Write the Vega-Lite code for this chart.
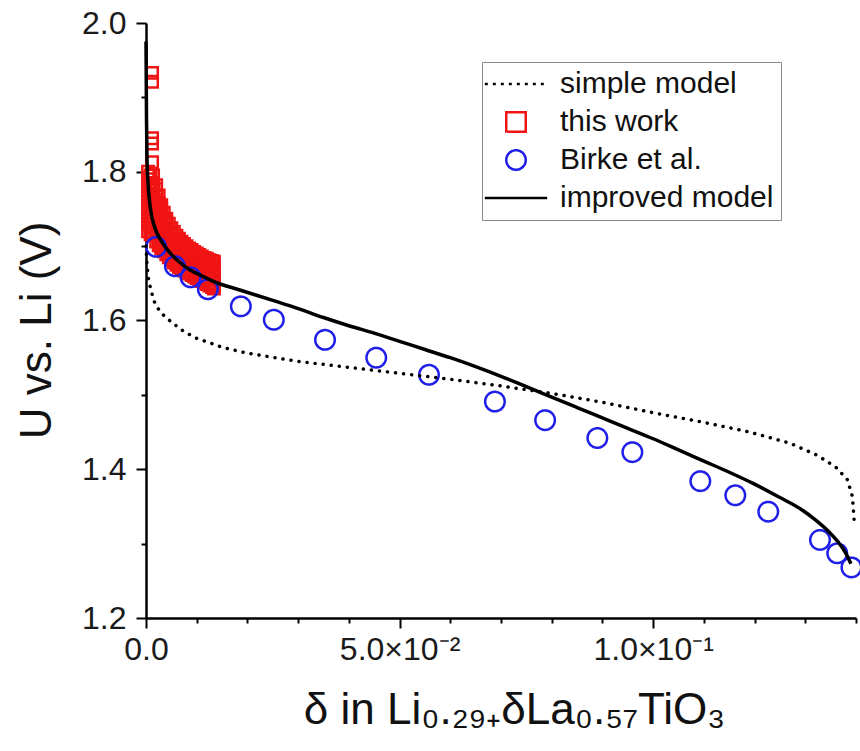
{
  "$schema": "https://vega.github.io/schema/vega-lite/v6.json",
  "width": 710,
  "height": 595,
  "autosize": {"type": "none"},
  "padding": {"left": 146, "top": 23, "right": 4, "bottom": 133},
  "background": "white",
  "config": {
    "view": {"stroke": null},
    "font": "Liberation Sans",
    "axis": {
      "grid": false,
      "domainColor": "black",
      "domainWidth": 2.5,
      "tickColor": "black",
      "tickWidth": 2,
      "labelFont": "Liberation Sans",
      "labelFontSize": 32,
      "labelColor": "#1a1a1a",
      "titleFont": "Liberation Sans",
      "titleFontSize": 44,
      "titleFontWeight": "normal",
      "titleColor": "#111",
      "labelFlush": false,
      "labelOverlap": false
    }
  },
  "layer": [
    {
      "data": {"values": [
        {"x": 0.0012, "y": 1.933}, {"x": 0.0012, "y": 1.921}, {"x": 0.0012, "y": 1.845}, {"x": 0.0012, "y": 1.838}, {"x": 0.0012, "y": 1.813},
        {"x": 0.0004, "y": 1.80}, {"x": 0.0004, "y": 1.79}, {"x": 0.0004, "y": 1.78}, {"x": 0.0004, "y": 1.77}, {"x": 0.0004, "y": 1.76}, {"x": 0.0004, "y": 1.75}, {"x": 0.0004, "y": 1.74}, {"x": 0.0004, "y": 1.73}, {"x": 0.0004, "y": 1.72},
        {"x": 0.0009, "y": 1.795}, {"x": 0.0009, "y": 1.785}, {"x": 0.0009, "y": 1.775}, {"x": 0.0009, "y": 1.765}, {"x": 0.0009, "y": 1.755}, {"x": 0.0009, "y": 1.745}, {"x": 0.0009, "y": 1.735}, {"x": 0.0009, "y": 1.725}, {"x": 0.0009, "y": 1.716},
        {"x": 0.0014, "y": 1.795}, {"x": 0.0014, "y": 1.785}, {"x": 0.0014, "y": 1.775}, {"x": 0.0014, "y": 1.765}, {"x": 0.0014, "y": 1.755}, {"x": 0.0014, "y": 1.745}, {"x": 0.0014, "y": 1.735}, {"x": 0.0014, "y": 1.725}, {"x": 0.0014, "y": 1.715},
        {"x": 0.002, "y": 1.782}, {"x": 0.002, "y": 1.777}, {"x": 0.002, "y": 1.767}, {"x": 0.002, "y": 1.757}, {"x": 0.002, "y": 1.747}, {"x": 0.002, "y": 1.737}, {"x": 0.002, "y": 1.727}, {"x": 0.002, "y": 1.717}, {"x": 0.002, "y": 1.706},
        {"x": 0.0025, "y": 1.768}, {"x": 0.0025, "y": 1.758}, {"x": 0.0025, "y": 1.748}, {"x": 0.0025, "y": 1.738}, {"x": 0.0025, "y": 1.728}, {"x": 0.0025, "y": 1.718}, {"x": 0.0025, "y": 1.708}, {"x": 0.0025, "y": 1.701},
        {"x": 0.003, "y": 1.755}, {"x": 0.003, "y": 1.750}, {"x": 0.003, "y": 1.740}, {"x": 0.003, "y": 1.730}, {"x": 0.003, "y": 1.720}, {"x": 0.003, "y": 1.710}, {"x": 0.003, "y": 1.700}, {"x": 0.003, "y": 1.697},
        {"x": 0.0035, "y": 1.745}, {"x": 0.0035, "y": 1.735}, {"x": 0.0035, "y": 1.725}, {"x": 0.0035, "y": 1.715}, {"x": 0.0035, "y": 1.705}, {"x": 0.0035, "y": 1.693},
        {"x": 0.004, "y": 1.737}, {"x": 0.004, "y": 1.732}, {"x": 0.004, "y": 1.722}, {"x": 0.004, "y": 1.712}, {"x": 0.004, "y": 1.702}, {"x": 0.004, "y": 1.694}, {"x": 0.004, "y": 1.689},
        {"x": 0.0045, "y": 1.730}, {"x": 0.0045, "y": 1.720}, {"x": 0.0045, "y": 1.710}, {"x": 0.0045, "y": 1.700}, {"x": 0.0045, "y": 1.692}, {"x": 0.0045, "y": 1.685},
        {"x": 0.005, "y": 1.724}, {"x": 0.005, "y": 1.719}, {"x": 0.005, "y": 1.709}, {"x": 0.005, "y": 1.699}, {"x": 0.005, "y": 1.689}, {"x": 0.005, "y": 1.681},
        {"x": 0.0055, "y": 1.719}, {"x": 0.0055, "y": 1.709}, {"x": 0.0055, "y": 1.699}, {"x": 0.0055, "y": 1.689}, {"x": 0.0055, "y": 1.678},
        {"x": 0.006, "y": 1.714}, {"x": 0.006, "y": 1.709}, {"x": 0.006, "y": 1.699}, {"x": 0.006, "y": 1.689}, {"x": 0.006, "y": 1.680}, {"x": 0.006, "y": 1.675},
        {"x": 0.0065, "y": 1.710}, {"x": 0.0065, "y": 1.700}, {"x": 0.0065, "y": 1.690}, {"x": 0.0065, "y": 1.680}, {"x": 0.0065, "y": 1.672},
        {"x": 0.007, "y": 1.706}, {"x": 0.007, "y": 1.701}, {"x": 0.007, "y": 1.691}, {"x": 0.007, "y": 1.682}, {"x": 0.007, "y": 1.674}, {"x": 0.007, "y": 1.669},
        {"x": 0.0075, "y": 1.703}, {"x": 0.0075, "y": 1.693}, {"x": 0.0075, "y": 1.683}, {"x": 0.0075, "y": 1.675}, {"x": 0.0075, "y": 1.667},
        {"x": 0.008, "y": 1.700}, {"x": 0.008, "y": 1.695}, {"x": 0.008, "y": 1.685}, {"x": 0.008, "y": 1.676}, {"x": 0.008, "y": 1.669}, {"x": 0.008, "y": 1.665},
        {"x": 0.0085, "y": 1.697}, {"x": 0.0085, "y": 1.687}, {"x": 0.0085, "y": 1.677}, {"x": 0.0085, "y": 1.669}, {"x": 0.0085, "y": 1.663},
        {"x": 0.009, "y": 1.695}, {"x": 0.009, "y": 1.690}, {"x": 0.009, "y": 1.680}, {"x": 0.009, "y": 1.671}, {"x": 0.009, "y": 1.664}, {"x": 0.009, "y": 1.661},
        {"x": 0.0095, "y": 1.692}, {"x": 0.0095, "y": 1.682}, {"x": 0.0095, "y": 1.672}, {"x": 0.0095, "y": 1.665}, {"x": 0.0095, "y": 1.659},
        {"x": 0.01, "y": 1.690}, {"x": 0.01, "y": 1.685}, {"x": 0.01, "y": 1.675}, {"x": 0.01, "y": 1.666}, {"x": 0.01, "y": 1.660}, {"x": 0.01, "y": 1.657},
        {"x": 0.0105, "y": 1.688}, {"x": 0.0105, "y": 1.678}, {"x": 0.0105, "y": 1.668}, {"x": 0.0105, "y": 1.655},
        {"x": 0.011, "y": 1.686}, {"x": 0.011, "y": 1.681}, {"x": 0.011, "y": 1.671}, {"x": 0.011, "y": 1.661}, {"x": 0.011, "y": 1.653},
        {"x": 0.0115, "y": 1.684}, {"x": 0.0115, "y": 1.674}, {"x": 0.0115, "y": 1.664}, {"x": 0.0115, "y": 1.651},
        {"x": 0.012, "y": 1.683}, {"x": 0.012, "y": 1.678}, {"x": 0.012, "y": 1.668}, {"x": 0.012, "y": 1.658}, {"x": 0.012, "y": 1.649},
        {"x": 0.0125, "y": 1.681}, {"x": 0.0125, "y": 1.671}, {"x": 0.0125, "y": 1.661}, {"x": 0.0125, "y": 1.647},
        {"x": 0.013, "y": 1.680}, {"x": 0.013, "y": 1.675}, {"x": 0.013, "y": 1.665}, {"x": 0.013, "y": 1.655}, {"x": 0.013, "y": 1.645},
        {"x": 0.0134, "y": 1.679}, {"x": 0.0134, "y": 1.669}, {"x": 0.0134, "y": 1.659}, {"x": 0.0134, "y": 1.650}, {"x": 0.0134, "y": 1.643}
      ]},
      "mark": {"type": "point", "filled": false, "size": 130, "strokeWidth": 2.5, "opacity": 1},
      "encoding": {
        "x": {
          "field": "x", "type": "quantitative",
          "scale": {"domain": [0, 0.14], "nice": false, "zero": false},
          "axis": {
            "title": "δ in Li₀.₂₉₊δLa₀.₅₇TiO₃",
            "values": [0, 0.01, 0.02, 0.03, 0.04, 0.05, 0.06, 0.07, 0.08, 0.09, 0.1, 0.11, 0.12, 0.13, 0.14],
            "labelExpr": "abs(datum.value) < 1e-9 ? '0.0' : (abs(datum.value - 0.05) < 1e-6 ? '5.0×10⁻²' : (abs(datum.value - 0.1) < 1e-6 ? '1.0×10⁻¹' : ''))",
            "tickSize": {"condition": {"test": "round(datum.value * 100) % 5 == 0", "value": 10}, "value": 5},
            "labelPadding": 6,
            "titlePadding": 23,
            "titleX": 368
          }
        },
        "y": {
          "field": "y", "type": "quantitative",
          "scale": {"domain": [1.2, 2.0], "nice": false, "zero": false},
          "axis": {
            "title": "U vs. Li (V)",
            "values": [1.2, 1.3, 1.4, 1.5, 1.6, 1.7, 1.8, 1.9, 2.0],
            "labelExpr": "round(datum.value * 10) % 2 == 0 ? format(datum.value, '.1f') : ''",
            "tickSize": {"condition": {"test": "round(datum.value * 10) % 2 == 0", "value": 10}, "value": 5},
            "labelPadding": 10,
            "titlePadding": 22,
            "titleY": 307
          }
        },
        "shape": {
          "datum": "this work",
          "scale": {"domain": ["simple model", "this work", "Birke et al.", "improved model"], "range": ["M-3.2,0H3.2", "square", "circle", "M-3.2,0H3.2"]},
          "legend": {"title": null, "orient": "none", "legendX": 336, "legendY": 39, "symbolSize": 380, "symbolStrokeWidth": 2.5, "labelFont": "Liberation Sans", "labelFontSize": 30, "labelLimit": 400, "labelColor": "#111", "strokeColor": "#888", "fillColor": "white", "padding": 7, "rowPadding": 8, "symbolOffset": 12, "labelOffset": 29}
        },
        "color": {
          "datum": "this work",
          "scale": {"domain": ["simple model", "this work", "Birke et al.", "improved model"], "range": ["#000000", "#f01414", "#1e1ee8", "#000000"]},
          "legend": {"title": null, "orient": "none", "legendX": 336, "legendY": 39, "symbolSize": 380, "symbolStrokeWidth": 2.5, "labelFont": "Liberation Sans", "labelFontSize": 30, "labelLimit": 400, "labelColor": "#111", "strokeColor": "#888", "fillColor": "white", "padding": 7, "rowPadding": 8, "symbolOffset": 12, "labelOffset": 29}
        },
        "strokeDash": {
          "datum": "this work",
          "scale": {"domain": ["simple model", "this work", "Birke et al.", "improved model"], "range": [[3, 5], [1, 0], [1, 0], [1, 0]]},
          "legend": {"title": null, "orient": "none", "legendX": 336, "legendY": 39, "symbolSize": 380, "symbolStrokeWidth": 2.5, "labelFont": "Liberation Sans", "labelFontSize": 30, "labelLimit": 400, "labelColor": "#111", "strokeColor": "#888", "fillColor": "white", "padding": 7, "rowPadding": 8, "symbolOffset": 12, "labelOffset": 29}
        }
      }
    },
    {
      "data": {"values": [
        {"x": 0.0020, "y": 1.699}, {"x": 0.0057, "y": 1.673}, {"x": 0.0088, "y": 1.658}, {"x": 0.0122, "y": 1.642},
        {"x": 0.0187, "y": 1.619}, {"x": 0.0252, "y": 1.601}, {"x": 0.0353, "y": 1.574}, {"x": 0.0454, "y": 1.550},
        {"x": 0.0558, "y": 1.527}, {"x": 0.0688, "y": 1.491}, {"x": 0.0787, "y": 1.466}, {"x": 0.0890, "y": 1.442},
        {"x": 0.0959, "y": 1.423}, {"x": 0.1093, "y": 1.384}, {"x": 0.1162, "y": 1.365}, {"x": 0.1227, "y": 1.343},
        {"x": 0.1329, "y": 1.305}, {"x": 0.1363, "y": 1.287}, {"x": 0.1391, "y": 1.268}
      ]},
      "mark": {"type": "point", "filled": false, "size": 380, "strokeWidth": 2.5, "opacity": 1},
      "encoding": {
        "x": {"field": "x", "type": "quantitative"},
        "y": {"field": "y", "type": "quantitative"},
        "shape": {"datum": "Birke et al."},
        "color": {"datum": "Birke et al."},
        "strokeDash": {"datum": "Birke et al."}
      }
    },
    {
      "data": {"values": [
        {"x": 0, "y": 1.70}, {"x": 0.0002, "y": 1.675}, {"x": 0.0005, "y": 1.655}, {"x": 0.001, "y": 1.64},
        {"x": 0.0018, "y": 1.622}, {"x": 0.003, "y": 1.61}, {"x": 0.005, "y": 1.598}, {"x": 0.0075, "y": 1.585},
        {"x": 0.01, "y": 1.576}, {"x": 0.015, "y": 1.564}, {"x": 0.02, "y": 1.556}, {"x": 0.03, "y": 1.545},
        {"x": 0.04, "y": 1.537}, {"x": 0.05, "y": 1.529}, {"x": 0.06, "y": 1.521}, {"x": 0.07, "y": 1.512},
        {"x": 0.08, "y": 1.502}, {"x": 0.09, "y": 1.49}, {"x": 0.1, "y": 1.476}, {"x": 0.11, "y": 1.463},
        {"x": 0.119, "y": 1.45}, {"x": 0.127, "y": 1.435}, {"x": 0.1323, "y": 1.419}, {"x": 0.136, "y": 1.403},
        {"x": 0.1383, "y": 1.386}, {"x": 0.1393, "y": 1.363}, {"x": 0.1397, "y": 1.325}
      ]},
      "mark": {"type": "line", "color": "black", "strokeWidth": 3.5, "strokeDash": [0.1, 8], "strokeCap": "round"},
      "encoding": {
        "x": {"field": "x", "type": "quantitative"},
        "y": {"field": "y", "type": "quantitative"}
      }
    },
    {
      "data": {"values": [
        {"x": 0, "y": 1.975}, {"x": 0.0001, "y": 1.87}, {"x": 0.0002, "y": 1.82}, {"x": 0.0004, "y": 1.785},
        {"x": 0.0007, "y": 1.76}, {"x": 0.001, "y": 1.745}, {"x": 0.0015, "y": 1.73}, {"x": 0.002, "y": 1.72},
        {"x": 0.003, "y": 1.707}, {"x": 0.004, "y": 1.697}, {"x": 0.005, "y": 1.689}, {"x": 0.0065, "y": 1.679},
        {"x": 0.0087, "y": 1.668}, {"x": 0.011, "y": 1.66}, {"x": 0.0135, "y": 1.652}, {"x": 0.0185, "y": 1.641},
        {"x": 0.025, "y": 1.627}, {"x": 0.03, "y": 1.616}, {"x": 0.035, "y": 1.604}, {"x": 0.04, "y": 1.593},
        {"x": 0.045, "y": 1.583}, {"x": 0.05, "y": 1.572}, {"x": 0.055, "y": 1.561}, {"x": 0.06, "y": 1.55},
        {"x": 0.065, "y": 1.538}, {"x": 0.07, "y": 1.525}, {"x": 0.075, "y": 1.511}, {"x": 0.08, "y": 1.497},
        {"x": 0.085, "y": 1.483}, {"x": 0.09, "y": 1.469}, {"x": 0.095, "y": 1.455}, {"x": 0.1, "y": 1.441},
        {"x": 0.105, "y": 1.426}, {"x": 0.11, "y": 1.411}, {"x": 0.115, "y": 1.396}, {"x": 0.12, "y": 1.38},
        {"x": 0.125, "y": 1.362}, {"x": 0.129, "y": 1.347}, {"x": 0.132, "y": 1.332}, {"x": 0.1345, "y": 1.317},
        {"x": 0.1365, "y": 1.302}, {"x": 0.138, "y": 1.287}, {"x": 0.139, "y": 1.273}
      ]},
      "mark": {"type": "line", "color": "black", "strokeWidth": 3.5, "interpolate": "monotone"},
      "encoding": {
        "x": {"field": "x", "type": "quantitative"},
        "y": {"field": "y", "type": "quantitative"}
      }
    }
  ]
}
